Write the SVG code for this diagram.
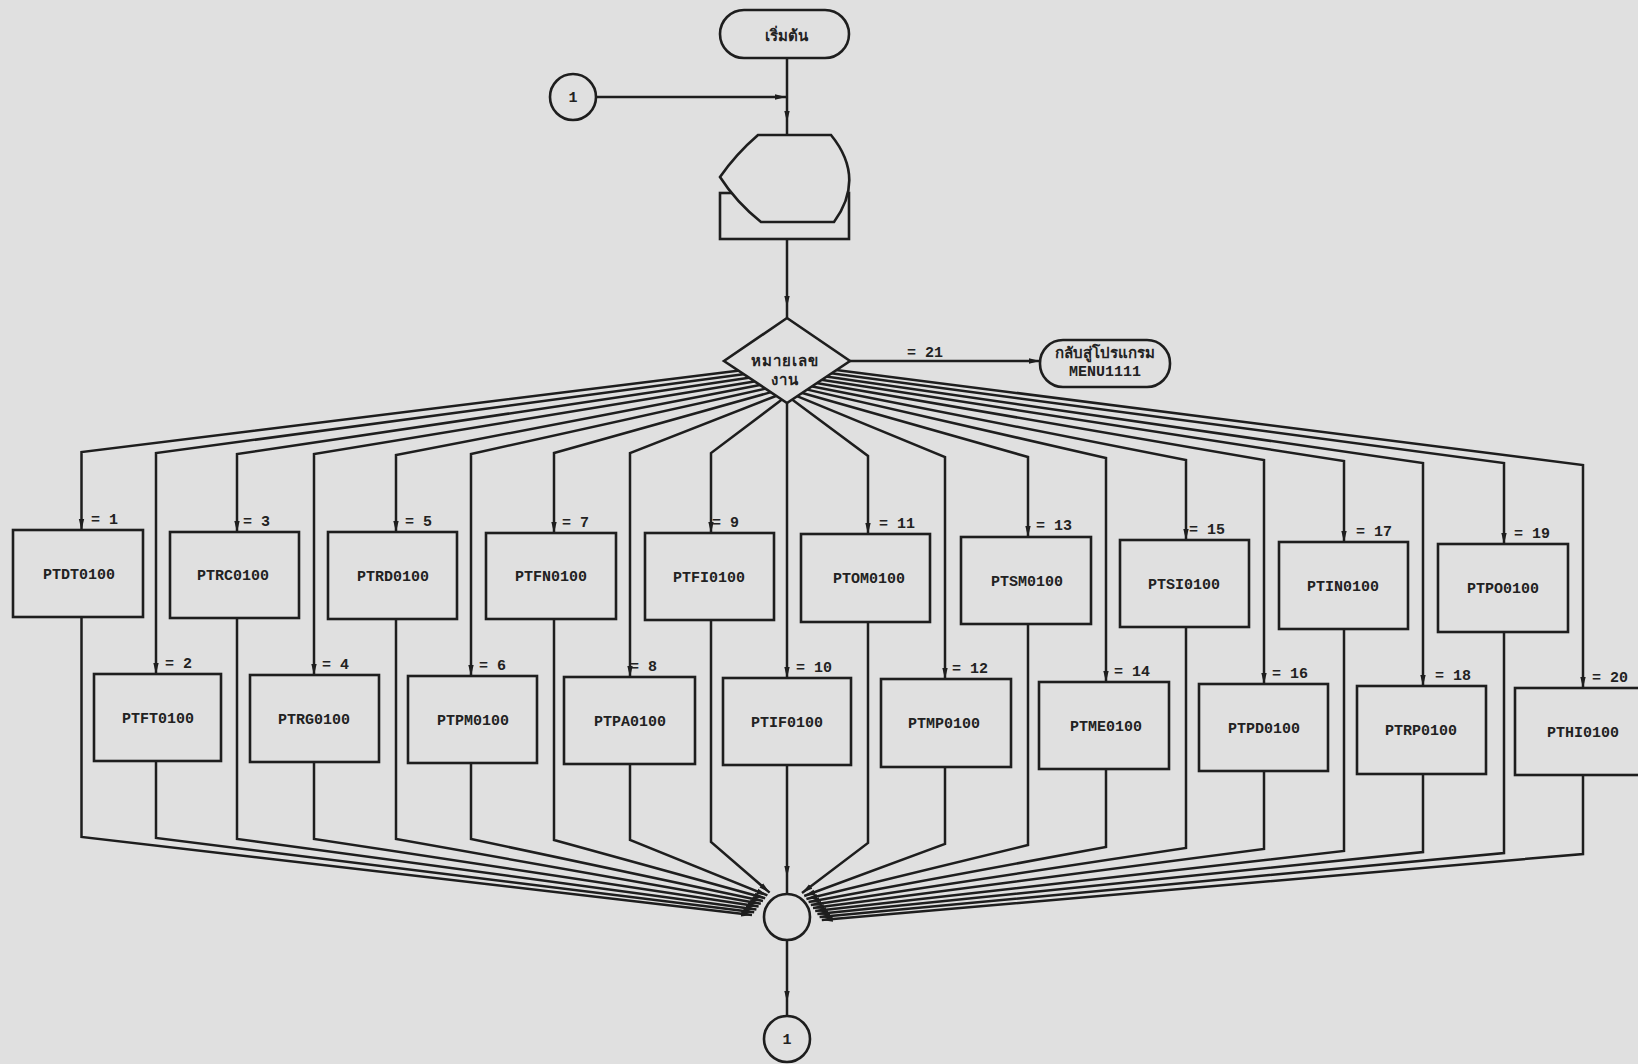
<svg xmlns="http://www.w3.org/2000/svg" width="1638" height="1064" viewBox="0 0 1638 1064">
<style>
.ln{fill:none;stroke:#1e1e1e;stroke-width:2.5}
.nd{fill:#e0e0e0;stroke:#1e1e1e;stroke-width:2.6}
.bx{font-family:"Liberation Mono","DejaVu Sans Mono",monospace;font-weight:bold;font-size:15px;fill:#222;text-anchor:middle}
.lb{font-family:"Liberation Mono","DejaVu Sans Mono",monospace;font-weight:bold;font-size:15px;fill:#222}
.th{font-family:"Noto Sans","DejaVu Sans",sans-serif;font-weight:bold;font-size:15px;fill:#222;text-anchor:middle}
.ar{marker-end:url(#a)}
.am{marker-mid:url(#a)}
</style>
<defs>
<marker id="a" markerUnits="userSpaceOnUse" markerWidth="12" markerHeight="7" refX="11" refY="3.5" orient="auto">
<path d="M0,0.8 L11,3.5 L0,6.2 z" fill="#1e1e1e"/>
</marker>
</defs>
<rect x="0" y="0" width="1638" height="1064" fill="#e0e0e0"/>

<g id="connectors">
<path class="ln am" d="M787,59 L787,122 L787,135"/>
<path class="ln ar" d="M596,97 L786,97"/>
<path class="ln am" d="M787,239 L787,307 L787,318"/>
<path class="ln ar" d="M850,361 L1040,361"/>
<path class="ln ar" d="M739.8,370.5 L81.5,452 L81.5,530"/>
<path class="ln ar" d="M745.1,374.1 L156,453 L156,674"/>
<path class="ln ar" d="M750.5,377.6 L237,454 L237,532"/>
<path class="ln ar" d="M755.8,381.2 L314,454 L314,675"/>
<path class="ln ar" d="M761.2,384.8 L396,455 L396,532"/>
<path class="ln ar" d="M766.5,388.4 L471,454 L471,676"/>
<path class="ln ar" d="M771.9,391.9 L554,453 L554,533"/>
<path class="ln ar" d="M777.2,395.5 L630,453 L630,677"/>
<path class="ln ar" d="M782.6,399.1 L711,453 L711,533"/>
<path class="ln ar" d="M787,402 L787,678"/>
<path class="ln ar" d="M791.4,399.1 L868,456 L868,534"/>
<path class="ln ar" d="M796.4,395.9 L945,457 L945,679"/>
<path class="ln ar" d="M801.4,392.7 L1028,457 L1028,537"/>
<path class="ln ar" d="M806.3,389.4 L1106,458 L1106,682"/>
<path class="ln ar" d="M811.3,386.2 L1186,460 L1186,540"/>
<path class="ln ar" d="M816.3,382.9 L1264,460 L1264,684"/>
<path class="ln ar" d="M821.2,379.7 L1344,461 L1344,542"/>
<path class="ln ar" d="M826.2,376.5 L1423,463 L1423,686"/>
<path class="ln ar" d="M831.2,373.3 L1504,463 L1504,544"/>
<path class="ln ar" d="M836.1,370 L1583,465 L1583,688"/>
<path class="ln ar" d="M81.5,617 L81.5,837 L752,915"/>
<path class="ln ar" d="M156,761 L156,838 L754.2,912.2"/>
<path class="ln ar" d="M237,618 L237,839 L756.4,909.4"/>
<path class="ln ar" d="M314,762 L314,839 L758.6,906.6"/>
<path class="ln ar" d="M396,619 L396,839 L760.8,903.8"/>
<path class="ln ar" d="M471,763 L471,839 L763,901"/>
<path class="ln ar" d="M554,619 L554,840 L765.2,898.2"/>
<path class="ln ar" d="M630,764 L630,840 L767.4,895.4"/>
<path class="ln ar" d="M711,620 L711,842 L769.6,892.6"/>
<path class="ln am" d="M787,765 L787,877 L787,894"/>
<path class="ln ar" d="M868,622 L868,843 L802,893"/>
<path class="ln ar" d="M945,767 L945,844 L804.2,896"/>
<path class="ln ar" d="M1028,624 L1028,845 L806.4,899"/>
<path class="ln ar" d="M1106,769 L1106,847 L808.6,902"/>
<path class="ln ar" d="M1186,627 L1186,848 L810.8,905"/>
<path class="ln ar" d="M1264,771 L1264,849 L813,908"/>
<path class="ln ar" d="M1344,629 L1344,851 L815.2,911"/>
<path class="ln ar" d="M1423,774 L1423,852 L817.4,914"/>
<path class="ln ar" d="M1504,632 L1504,853 L819.6,917"/>
<path class="ln ar" d="M1583,775 L1583,854 L821.8,920"/>
<path class="ln am" d="M787,940 L787,1002 L787,1016"/>
</g>

<g id="start">
<rect class="nd" x="720" y="10" width="129" height="48" rx="24"/>
<text class="th" x="786" y="41">เริ่มต้น</text>
</g>
<g id="conn-top">
<circle class="nd" cx="573" cy="97" r="23"/>
<text class="bx" x="573" y="102">1</text>
</g>
<g id="display">
<rect class="nd" x="720" y="193" width="129" height="46"/>
<path class="nd" d="M758,135 L831,135 Q866,178 834,222 L761,222 Q736,202 720,177 Q736,154 758,135 z"/>
</g>
<g id="decision">
<path class="nd" d="M787,318 L850,361 L787,403 L724,361 z"/>
<text class="th" x="785" y="366" letter-spacing="1">หมายเลข</text>
<text class="th" x="785" y="385" letter-spacing="1">งาน</text>
</g>
<g id="label21"><text class="lb" x="907" y="357">= 21</text></g>
<g id="menu">
<rect class="nd" x="1040" y="340" width="130" height="47" rx="23"/>
<text class="th" x="1105" y="358">กลับสู่โปรแกรม</text>
<text class="bx" x="1105" y="376">MENU1111</text>
</g>

<g id="b1"><rect class="nd" x="13" y="530" width="130" height="87"/><text class="bx" x="79" y="579">PTDT0100</text><text class="lb" x="91" y="524">= 1</text></g>
<g id="b2"><rect class="nd" x="94" y="674" width="127" height="87"/><text class="bx" x="158" y="723">PTFT0100</text><text class="lb" x="165" y="668">= 2</text></g>
<g id="b3"><rect class="nd" x="170" y="532" width="129" height="86"/><text class="bx" x="233" y="580">PTRC0100</text><text class="lb" x="243" y="526">= 3</text></g>
<g id="b4"><rect class="nd" x="250" y="675" width="129" height="87"/><text class="bx" x="314" y="724">PTRG0100</text><text class="lb" x="322" y="669">= 4</text></g>
<g id="b5"><rect class="nd" x="328" y="532" width="129" height="87"/><text class="bx" x="393" y="581">PTRD0100</text><text class="lb" x="405" y="526">= 5</text></g>
<g id="b6"><rect class="nd" x="408" y="676" width="129" height="87"/><text class="bx" x="473" y="725">PTPM0100</text><text class="lb" x="479" y="670">= 6</text></g>
<g id="b7"><rect class="nd" x="486" y="533" width="130" height="86"/><text class="bx" x="551" y="581">PTFN0100</text><text class="lb" x="562" y="527">= 7</text></g>
<g id="b8"><rect class="nd" x="564" y="677" width="131" height="87"/><text class="bx" x="630" y="726">PTPA0100</text><text class="lb" x="630" y="671">= 8</text></g>
<g id="b9"><rect class="nd" x="645" y="533" width="129" height="87"/><text class="bx" x="709" y="582">PTFI0100</text><text class="lb" x="712" y="527">= 9</text></g>
<g id="b10"><rect class="nd" x="723" y="678" width="128" height="87"/><text class="bx" x="787" y="727">PTIF0100</text><text class="lb" x="796" y="672">= 10</text></g>
<g id="b11"><rect class="nd" x="801" y="534" width="129" height="88"/><text class="bx" x="869" y="583">PTOM0100</text><text class="lb" x="879" y="528">= 11</text></g>
<g id="b12"><rect class="nd" x="881" y="679" width="130" height="88"/><text class="bx" x="944" y="728">PTMP0100</text><text class="lb" x="952" y="673">= 12</text></g>
<g id="b13"><rect class="nd" x="961" y="537" width="130" height="87"/><text class="bx" x="1027" y="586">PTSM0100</text><text class="lb" x="1036" y="530">= 13</text></g>
<g id="b14"><rect class="nd" x="1039" y="682" width="130" height="87"/><text class="bx" x="1106" y="731">PTME0100</text><text class="lb" x="1114" y="676">= 14</text></g>
<g id="b15"><rect class="nd" x="1120" y="540" width="129" height="87"/><text class="bx" x="1184" y="589">PTSI0100</text><text class="lb" x="1189" y="534">= 15</text></g>
<g id="b16"><rect class="nd" x="1199" y="684" width="129" height="87"/><text class="bx" x="1264" y="733">PTPD0100</text><text class="lb" x="1272" y="678">= 16</text></g>
<g id="b17"><rect class="nd" x="1279" y="542" width="129" height="87"/><text class="bx" x="1343" y="591">PTIN0100</text><text class="lb" x="1356" y="536">= 17</text></g>
<g id="b18"><rect class="nd" x="1357" y="686" width="129" height="88"/><text class="bx" x="1421" y="735">PTRP0100</text><text class="lb" x="1435" y="680">= 18</text></g>
<g id="b19"><rect class="nd" x="1438" y="544" width="130" height="88"/><text class="bx" x="1503" y="593">PTPO0100</text><text class="lb" x="1514" y="538">= 19</text></g>
<g id="b20"><rect class="nd" x="1515" y="688" width="135" height="87"/><text class="bx" x="1583" y="737">PTHI0100</text><text class="lb" x="1592" y="682">= 20</text></g>

<g id="merge"><circle class="nd" cx="787" cy="917" r="23"/></g>
<g id="conn-bottom">
<circle class="nd" cx="787" cy="1039" r="23"/>
<text class="bx" x="787" y="1044">1</text>
</g>
</svg>
